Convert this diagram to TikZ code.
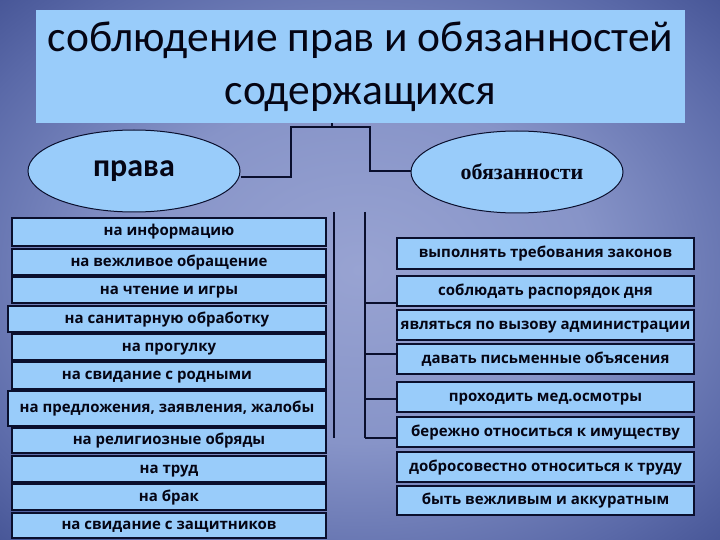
\documentclass[tikz,border=0pt]{standalone}
\usepackage{fontspec}
\setmainfont{Carlito}
\newfontfamily\boxfont{Open Sans}
\newfontfamily\seriffont{Liberation Serif}
\usetikzlibrary{shapes.geometric}
\definecolor{boxfill}{RGB}{153,204,250}
\definecolor{edge}{RGB}{10,15,45}
\definecolor{txt}{RGB}{5,5,20}
\definecolor{bgA}{RGB}{152,163,210}
\definecolor{bgB}{RGB}{135,148,200}
\definecolor{bgC}{RGB}{90,105,168}
\definecolor{bgD}{RGB}{50,65,132}
\definecolor{bgE}{RGB}{30,42,105}
\definecolor{bgF}{RGB}{22,30,85}
\pgfdeclareradialshading{bgshade}{\pgfpoint{0bp}{0bp}}{%
  color(0bp)=(bgA);
  color(16bp)=(bgB);
  color(30bp)=(bgC);
  color(42bp)=(bgD);
  color(52bp)=(bgE);
  color(70bp)=(bgF)}
\tikzset{
  boxbase/.style={draw=edge, line width=1.4pt, fill=boxfill, inner sep=0pt,
    text height=11pt, text depth=3pt,
    font=\boxfont\bfseries\fontsize{15}{17}\selectfont, text=txt},
  lbox/.style={boxbase, minimum width=314pt},
  rbox/.style={boxbase, minimum width=297pt},
  oval/.style={ellipse, draw=edge, line width=1pt, fill=boxfill, minimum width=212pt, minimum height=82pt, inner sep=0pt, text=txt},
  conn/.style={draw=edge, line width=1.4pt}
}
\begin{document}
\begin{tikzpicture}[x=1pt,y=-1pt]
\useasboundingbox (0,0) rectangle (720,540);
\shade[shading=bgshade] (0,0) rectangle (720,540);
% title
\node[fill=boxfill, minimum width=649pt, minimum height=113pt, inner sep=0pt, align=center, text=txt,
  font=\fontsize{43.5}{53}\selectfont] (title) at (360.5,66.5)
  {соблюдение прав и обязанностей\\содержащихся};
% ovals
\node[oval, font=\bfseries\fontsize{32}{36}\selectfont] (prava) at (134,171) {права};
\node[oval, font=\seriffont\bfseries\fontsize{22}{26}\selectfont] (obyaz) at (517,172) {\hspace{10pt}обязанности};
% connectors top
\coordinate (c1) at (291,177);
\coordinate (c2) at (291,127);
\coordinate (c3) at (370,127);
\coordinate (c4) at (370,171);
\coordinate (tk) at (332,127);
\draw[conn] (prava.east |- c1) -- (c1) -- (c2) -- (c3) -- (c4) -- (c4 -| obyaz.west);
\draw[conn] (tk) -- (tk |- title.south);
% left boxes
\node[lbox, minimum height=28pt] (l1) at (169,232) {на информацию};
\node[lbox, minimum height=26pt] (l2) at (169,262) {на вежливое обращение};
\node[lbox, minimum height=26pt] (l3) at (169,290) {на чтение и игры};
\node[lbox, minimum height=26pt, minimum width=318pt] (l4) at (167,319) {на санитарную обработку};
\node[lbox, minimum height=26pt] (l5) at (169,347) {на прогулку};
\node[lbox, minimum height=27pt] (l6) at (169,375.5) {на свидание с родными\hspace*{24pt}};
\node[lbox, minimum height=35pt, minimum width=318pt] (l7) at (167,408.5) {на предложения, заявления, жалобы};
\node[lbox, minimum height=25pt] (l8) at (169,440.5) {на религиозные обряды};
\node[lbox, minimum height=26pt] (l9) at (169,469) {на труд};
\node[lbox, minimum height=26pt] (l10) at (169,497) {на брак};
\node[lbox, minimum height=25pt] (l11) at (169,525.5) {на свидание с защитников};
% right boxes
\node[rbox, minimum height=31pt] (r1) at (545.5,253.5) {выполнять требования законов};
\node[rbox, minimum height=30pt] (r2) at (545.5,291) {соблюдать распорядок дня};
\node[rbox, minimum height=30pt] (r3) at (545.5,325) {являться по вызову администрации};
\node[rbox, minimum height=30pt] (r4) at (545.5,359) {давать письменные объясения};
\node[rbox, minimum height=30pt] (r5) at (545.5,397) {проходить мед.осмотры};
\node[rbox, minimum height=30pt] (r6) at (545.5,432) {бережно относиться к имуществу};
\node[rbox, minimum height=30pt] (r7) at (545.5,467) {добросовестно относиться к труду};
\node[rbox, minimum height=29pt] (r8) at (545.5,500.5) {быть вежливым и аккуратным};
% vertical lines
\coordinate (vl1) at (334,212);
\coordinate (vl2) at (334,438);
\coordinate (vr1) at (365,212);
\coordinate (vr2) at (365,438);
\draw[conn] (vl1) -- (vl2);
\draw[conn] (vr1) -- (vr2);
\coordinate (b1) at (365,303);
\coordinate (b2) at (365,354);
\coordinate (b3) at (365,399);
\draw[conn] (b1) -- (b1 -| r2.west);
\draw[conn] (b2) -- (b2 -| r4.west);
\draw[conn] (b3) -- (b3 -| r5.west);
\draw[conn] (vr2) -- (vr2 -| r6.west);
\end{tikzpicture}
\end{document}
